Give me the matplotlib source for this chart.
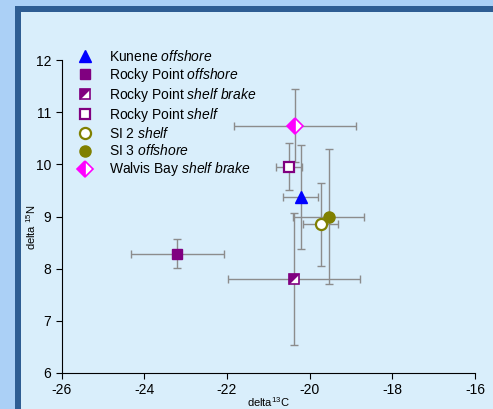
import matplotlib
matplotlib.use("Agg")
import matplotlib.pyplot as plt
from matplotlib.patches import Rectangle
from matplotlib.legend_handler import HandlerTuple

plt.rcParams['font.family'] = ['Liberation Sans', 'DejaVu Sans']
plt.rcParams['mathtext.fontset'] = 'custom'
plt.rcParams['mathtext.rm'] = 'Liberation Sans'
plt.rcParams['mathtext.it'] = 'Liberation Sans:italic'
plt.rcParams['axes.unicode_minus'] = False

# data
sites = ["Kunene", "Rocky Point", "Rocky Point", "Rocky Point", "SI 2", "SI 3", "Walvis Bay"]
habitats = ["offshore", "offshore", "shelf brake", "shelf", "shelf", "offshore", "shelf brake"]
d13C = [-20.22, -23.20, -20.38, -20.50, -19.73, -19.54, -20.35]
d15N = [9.38, 8.29, 7.80, 9.95, 8.85, 9.00, 10.74]
d13C_err = [0.43, 1.13, 1.60, 0.32, 0.42, 0.85, 1.48]
d15N_err = [1.00, 0.27, 1.26, 0.45, 0.79, 1.30, 0.70]

W, H = 493, 409
fig = plt.figure(figsize=(W / 100, H / 100), dpi=100)
fig.patch.set_facecolor('#abd0f6')
# dark frame and inner panel
fig.patches.append(Rectangle((15 / W, 0), 1, 1 - 6 / H, transform=fig.transFigure,
                             facecolor='#2e5d93', edgecolor='none', zorder=-2))
fig.patches.append(Rectangle((21 / W, 0), 1, 1 - 12 / H, transform=fig.transFigure,
                             facecolor='#d9eefb', edgecolor='none', zorder=-1))

ax = fig.add_axes([61.5 / W, (H - 373) / H, 413.5 / W, 313 / H])
ax.set_facecolor('none')
ax.set_zorder(1)

purple = '#800080'
olive = '#808000'
styles = [
    dict(marker='^', color='blue', markerfacecolor='blue', markersize=8),
    dict(marker='s', color=purple, markerfacecolor=purple, markersize=7),
    None,
    dict(marker='s', color=purple, markerfacecolor='white', markersize=7, markeredgewidth=1.6),
    dict(marker='o', color=olive, markerfacecolor='white', markersize=8, markeredgewidth=1.6),
    dict(marker='o', color=olive, markerfacecolor=olive, markersize=8),
    dict(marker='D', color='#ff00ff', markerfacecolor='#ff00ff', fillstyle='left',
         markerfacecoloralt='white', markersize=8, markeredgewidth=1.2),
]

ax.errorbar(d13C, d15N, xerr=d13C_err, yerr=d15N_err, fmt='none',
            ecolor='#8c8c8c', elinewidth=1, capsize=3.1, capthick=1, zorder=2)

handles = []
for i in range(len(sites)):
    label = sites[i] + r" $\it{" + habitats[i].replace(" ", r"\ ") + "}$"
    if styles[i] is None:
        # half filled square, split on the diagonal
        ax.plot(d13C[i], d15N[i], ls='none', marker='s', markersize=7,
                markerfacecolor='white', markeredgecolor=purple, markeredgewidth=1.2, zorder=3)
        h, = ax.plot(d13C[i], d15N[i], ls='none', marker=[(-1, 1), (1, 1), (-1, -1)],
                     markersize=8.2, color=purple, markeredgewidth=0, zorder=4)
        sq, = ax.plot([], [], ls='none', marker='s', markersize=7,
                      markerfacecolor='white', markeredgecolor=purple, markeredgewidth=1.2)
        handles.append(((sq, h), label))
    else:
        h, = ax.plot(d13C[i], d15N[i], ls='none', zorder=4, **styles[i])
        handles.append((h, label))

ax.set_xlim(-26, -16)
ax.set_ylim(6, 12)
ax.set_xticks([-26, -24, -22, -20, -18, -16])
ax.set_yticks([6, 7, 8, 9, 10, 11, 12])
ax.spines['top'].set_visible(False)
ax.spines['right'].set_visible(False)
ax.tick_params(labelsize=10, length=4, width=0.8, direction='out')
ax.set_xlabel(r"delta$^{13}$C", fontsize=8)
ax.xaxis.set_label_coords(0.5, -0.07)
ax.set_ylabel(r"delta $^{15}$N", fontsize=8)
ax.yaxis.set_label_coords(-0.0726, 0.466)
ax.yaxis.label.set_va('center')

leg = ax.legend([h for h, l in handles], [l for h, l in handles], loc='upper left',
                bbox_to_anchor=(78.1 / W, 1 - 49 / H), bbox_transform=fig.transFigure,
                frameon=False, fontsize=10, borderpad=0, handlelength=1.0,
                handletextpad=1.22, labelspacing=0.15, borderaxespad=0,
                handler_map={tuple: HandlerTuple(ndivide=1, pad=0)})

fig.savefig("out.png", dpi=100, facecolor=fig.get_facecolor())
